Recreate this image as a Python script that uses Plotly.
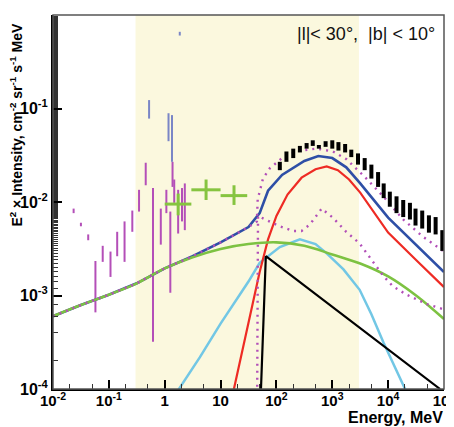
import plotly.graph_objects as go

# ---------------- data ----------------
band_E = [0.3, 3000]                      # shaded energy band, MeV
axis_y = [1e-4, 1.0]

green_E = [0.01, 0.0316, 0.1, 0.316, 1, 3.16, 10, 31.6, 100, 316, 1000, 3162, 1e4, 31623, 1e5]
green_y = [6.0e-4, 7.9e-4, 1.02e-3, 1.35e-3, 1.95e-3, 2.57e-3, 3.15e-3, 3.55e-3, 3.7e-3, 3.4e-3,
           2.75e-3, 2.2e-3, 1.6e-3, 1.0e-3, 5.6e-4]

blue_E = [0.01, 0.0316, 0.1, 0.316, 1, 3.16, 10, 31.6, 50.1, 70.8, 126, 316, 562, 1000, 1778,
          3162, 1e4, 31623, 1e5]
blue_y = [6.0e-4, 7.9e-4, 1.02e-3, 1.35e-3, 1.95e-3, 2.63e-3, 3.7e-3, 5.4e-3, 7.6e-3, 1.32e-2,
          1.95e-2, 2.75e-2, 3.1e-2, 2.95e-2, 2.35e-2, 1.58e-2, 6.8e-3, 3.5e-3, 1.78e-3]

red_E = [16.6, 31.6, 50.1, 70.8, 100, 158, 282, 501, 794, 1259, 1995, 3162, 1e4, 31623, 1e5]
red_y = [8.9e-5, 5.0e-4, 1.78e-3, 3.98e-3, 7.1e-3, 1.2e-2, 1.82e-2, 2.24e-2, 2.4e-2, 2.19e-2,
         1.74e-2, 1.26e-2, 4.7e-3, 2.4e-3, 1.23e-3]

cyan_E = [1.58, 4.27, 10, 31.6, 50.1, 115, 263, 501, 794, 1585, 3090, 5012, 8318, 20417, 22387]
cyan_y = [8.9e-5, 2.19e-4, 5.0e-4, 1.41e-3, 2.24e-3, 3.3e-3, 3.98e-3, 3.55e-3, 2.82e-3, 1.9e-3,
          1.15e-3, 6.3e-4, 3.1e-4, 1.0e-4, 8.7e-5]

black_E = [52.5, 64.6, 85000]
black_y = [8.9e-5, 2.63e-3, 1.0e-4]

dotlow_E = [45.2, 45.7, 46.8, 63.1, 115, 200, 282, 398, 646, 1023, 1778, 3090, 7943, 12023,
            21380, 48978, 1e5]
dotlow_y = [8.9e-5, 2.5e-3, 7.1e-3, 6.5e-3, 5.5e-3, 4.9e-3, 4.9e-3, 5.75e-3, 8.5e-3, 6.8e-3,
            4.8e-3, 3.6e-3, 1.66e-3, 1.26e-3, 1.02e-3, 8.1e-4, 7.1e-4]

dotup_E = [0.01, 0.0316, 0.1, 0.316, 1, 3.16, 10, 31.6, 44.7, 46.2, 57.5, 75.9, 132, 263, 525,
           1023, 1778, 3802, 8128, 18621, 41687, 1e5]
dotup_y = [6.0e-4, 7.9e-4, 1.02e-3, 1.35e-3, 1.95e-3, 2.63e-3, 3.7e-3, 5.4e-3, 6.2e-3, 1.07e-2,
           1.78e-2, 2.29e-2, 3.02e-2, 3.55e-2, 3.72e-2, 3.47e-2, 2.88e-2, 1.86e-2, 1.15e-2,
           6.5e-3, 4.27e-3, 2.95e-3]

# LAT-like data (black bars)
lat_E = [115, 151, 200, 263, 347, 447, 575, 759, 1000, 1288, 1698, 2188, 2884, 3802, 5012, 6607,
         8318, 10715, 14125, 18621, 24547, 30903, 40738, 53703, 70795, 93325]
lat_lo = [0.0219, 0.0269, 0.0295, 0.0339, 0.0372, 0.0398, 0.0372, 0.0389, 0.0372, 0.0355, 0.0339,
          0.0302, 0.0251, 0.0219, 0.0178, 0.0145, 0.0110, 0.0089, 0.0076, 0.0069, 0.0065, 0.0056,
          0.0052, 0.0047, 0.0045, 0.0030]
lat_hi = [0.0269, 0.0347, 0.0372, 0.0398, 0.0427, 0.0457, 0.0407, 0.0447, 0.0457, 0.0437, 0.0417,
          0.0363, 0.0331, 0.0295, 0.0251, 0.0209, 0.0158, 0.0129, 0.0115, 0.0105, 0.0098, 0.0085,
          0.0081, 0.0072, 0.0069, 0.0050]

# low-energy data (magenta bars)
spi_E = [0.0234, 0.0316, 0.0427, 0.0575, 0.0776, 0.107, 0.141, 0.191, 0.263, 0.347, 0.457, 0.617,
         0.851, 1.07, 1.26, 1.38, 1.48, 1.74, 2.04, 2.29]
spi_lo = [7.6e-3, 5.5e-3, 3.9e-3, 6.6e-4, 2.29e-3, 1.58e-3, 2.63e-3, 2.29e-3, 4.8e-3, 7.9e-3,
          1.51e-2, 3.2e-4, 3.5e-3, 7.6e-3, 1.07e-3, 1.45e-2, 9.8e-3, 4.6e-3, 6.2e-3, 5.0e-3]
spi_hi = [8.5e-3, 6.0e-3, 4.5e-3, 2.34e-3, 3.4e-3, 2.95e-3, 4.8e-3, 6.2e-3, 8.1e-3, 1.35e-2,
          2.63e-2, 1.41e-2, 8.5e-3, 1.35e-2, 7.9e-3, 2.69e-2, 1.74e-2, 1.35e-2, 1.41e-2, 1.58e-2]

# low-energy data (blue bars)
lb_E = [0.525, 1.17, 1.35, 1.86]
lb_lo = [0.078, 0.0447, 0.0269, 0.603]
lb_hi = [0.123, 0.089, 0.085, 0.661]

# COMPTEL-like crosses
cp_E = [1.74, 5.5, 17.4]
cp_Elo = [1.0, 3.0, 10.0]
cp_Ehi = [3.0, 10.0, 30.0]
cp_y = [9.5e-3, 1.35e-2, 1.17e-2]
cp_ylo = [7.2e-3, 1.05e-2, 9.3e-3]
cp_yhi = [1.23e-2, 1.74e-2, 1.51e-2]

x_tickvals = [1e-2, 1e-1, 1, 10, 1e2, 1e3, 1e4, 1e5]
x_ticktext = ["10<sup>-2</sup>", "10<sup>-1</sup>", "1", "10", "10<sup>2</sup>", "10<sup>3</sup>",
              "10<sup>4</sup>", "10<sup>5</sup>"]
y_tickvals = [1e-4, 1e-3, 1e-2, 1e-1, 1]
y_ticktext = ["10<sup>-4</sup>", "10<sup>-3</sup>", "10<sup>-2</sup>", "10<sup>-1</sup>", "1"]

# ---------------- figure ----------------
fig = go.Figure()

fig.add_trace(go.Scatter(
    x=[band_E[0], band_E[1], band_E[1], band_E[0], band_E[0]],
    y=[axis_y[0], axis_y[0], axis_y[1], axis_y[1], axis_y[0]],
    fill="toself", fillcolor="#FBF8DE", line=dict(width=0), mode="lines",
    hoverinfo="skip", showlegend=False))


def bars(E, lo, hi, color, width):
    return go.Scatter(
        x=E, y=hi, mode="markers", marker=dict(size=0.1, color=color, opacity=0),
        error_y=dict(type="data", symmetric=False,
                     array=[0] * len(E), arrayminus=[h - l for h, l in zip(hi, lo)],
                     color=color, thickness=width, width=0),
        showlegend=False, hoverinfo="skip")


fig.add_trace(bars(spi_E, spi_lo, spi_hi, "#B44FB8", 2))
fig.add_trace(bars(lb_E, lb_lo, lb_hi, "#7A86C6", 2))

fig.add_trace(go.Scatter(
    x=cp_E, y=cp_y, mode="markers", marker=dict(size=0.1, opacity=0, color="#86C440"),
    error_x=dict(type="data", symmetric=False,
                 array=[h - c for h, c in zip(cp_Ehi, cp_E)],
                 arrayminus=[c - l for c, l in zip(cp_E, cp_Elo)],
                 color="#86C440", thickness=3, width=0),
    error_y=dict(type="data", symmetric=False,
                 array=[h - c for h, c in zip(cp_yhi, cp_y)],
                 arrayminus=[c - l for c, l in zip(cp_y, cp_ylo)],
                 color="#86C440", thickness=3, width=0),
    showlegend=False, hoverinfo="skip"))

fig.add_trace(go.Scatter(x=cyan_E, y=cyan_y, mode="lines",
                         line=dict(color="#72C7E5", width=2.5), showlegend=False))
fig.add_trace(go.Scatter(x=red_E, y=red_y, mode="lines",
                         line=dict(color="#EE2B24", width=2.2), showlegend=False))
fig.add_trace(go.Scatter(x=black_E, y=black_y, mode="lines",
                         line=dict(color="#000000", width=2.2), showlegend=False))
fig.add_trace(go.Scatter(x=blue_E, y=blue_y, mode="lines",
                         line=dict(color="#2E4FA6", width=2.6), showlegend=False))
fig.add_trace(go.Scatter(x=green_E, y=green_y, mode="lines", line_shape="spline",
                         line=dict(color="#7DC242", width=2.6), showlegend=False))
fig.add_trace(go.Scatter(x=dotlow_E, y=dotlow_y, mode="lines",
                         line=dict(color="#B24FB8", width=2.4, dash="2px,5px"), showlegend=False))
fig.add_trace(go.Scatter(x=dotup_E, y=dotup_y, mode="lines",
                         line=dict(color="#B24FB8", width=2.4, dash="2px,5px"), showlegend=False))

fig.add_trace(bars(lat_E, lat_lo, lat_hi, "#000000", 4))

tickfont = dict(family="Liberation Sans, Arial, sans-serif", size=16, color="black")

fig.update_xaxes(type="log", range=[-2, 5], tickvals=x_tickvals,
                 ticktext=["<b>%s</b>" % t for t in x_ticktext],
                 ticks="inside", ticklen=9, tickwidth=1.5, tickcolor="black",
                 ticklabelstandoff=-3,
                 minor=dict(ticks="inside", ticklen=5, tickwidth=1, tickcolor="#333"),
                 showline=True, linecolor="black", linewidth=2, mirror=False,
                 showgrid=False, zeroline=False, tickfont=dict(tickfont, size=15))
fig.update_yaxes(type="log", range=[-4, 0], tickvals=y_tickvals,
                 ticktext=["<b>%s</b>" % t for t in y_ticktext],
                 ticks="inside", ticklen=9, tickwidth=1.5, tickcolor="black",
                 minor=dict(ticks="inside", ticklen=5, tickwidth=1, tickcolor="#333"),
                 showline=True, linecolor="black", linewidth=2, mirror=False,
                 showgrid=False, zeroline=False, tickfont=tickfont)

fig.add_shape(type="rect", xref="paper", yref="paper", x0=0, y0=0, x1=1, y1=1,
              line=dict(color="#555555", width=1.5), layer="above")

fig.add_annotation(x=0.982, y=0.949, xref="paper", yref="paper", xanchor="right",
                   yanchor="middle", showarrow=False,
                   text="|l|< 30°,  |b| < 10°",
                   font=dict(family="Liberation Sans, Arial, sans-serif", size=18, color="#111"))
fig.add_annotation(x=1.003, y=-0.0775, xref="paper", yref="paper", xanchor="right",
                   yanchor="middle", showarrow=False, text="<b>Energy, MeV</b>",
                   font=dict(family="Liberation Sans, Arial, sans-serif", size=16, color="black"))
fig.add_annotation(x=-0.0955, y=0.706, xref="paper", yref="paper", xanchor="center",
                   yanchor="middle", showarrow=False, textangle=-90,
                   text="<b>E<sup>2</sup> × Intensity, cm<sup>-2</sup> sr<sup>-1</sup> s<sup>-1</sup> MeV</b>",
                   font=dict(family="Liberation Sans, Arial, sans-serif", size=14, color="black"))

# the page is shown with an 8px body margin, so margins are shifted to compensate
fig.update_layout(width=454, height=427, margin=dict(l=45, r=18, t=7, b=46),
                  plot_bgcolor="white", paper_bgcolor="white", showlegend=False)

fig.write_html("out.html")
